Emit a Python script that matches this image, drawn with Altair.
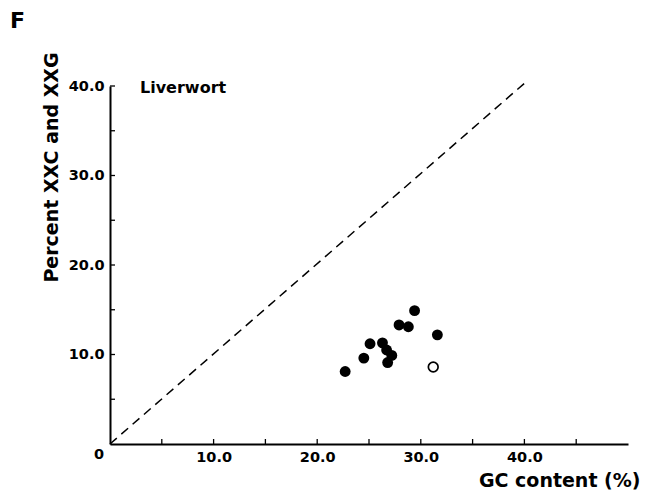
import altair as alt
import pandas as pd

# Data
gc_filled = [29.4, 27.9, 28.8, 31.6, 25.1, 26.3, 26.7, 27.2, 26.8, 24.5, 22.7]
xxc_filled = [14.9, 13.3, 13.1, 12.2, 11.2, 11.3, 10.5, 9.9, 9.1, 9.6, 8.1]
gc_open = [31.2]
xxc_open = [8.6]
diag_x = [0, 40.2]
diag_y = [0, 40.5]
x_tick_vals = [5, 10, 15, 20, 25, 30, 35, 40, 45]
y_tick_vals = [5, 10, 15, 20, 25, 30, 35, 40]
x_label_vals = [10, 20, 30, 40]
y_label_vals = [10, 20, 30, 40]

FONT = "DejaVu Sans"
W, H = 518, 358

xs = alt.Scale(domain=[0, 50], nice=False, zero=False)
ys = alt.Scale(domain=[0, 40], nice=False, zero=False)

x_axis = alt.Axis(
    values=x_label_vals, format=".1f", ticks=False, grid=False,
    domainColor="black", domainWidth=2,
    labelFont=FONT, labelFontSize=14.5, labelFontWeight="bold", labelColor="black",
    labelPadding=6, labelFlush=False,
    title="GC content (%)", titleFont=FONT, titleFontSize=19, titleFontWeight="bold",
    titleColor="black", titleX=530, titleY=42, titleAlign="right", titleBaseline="alphabetic",
)
y_axis = alt.Axis(
    values=y_label_vals, format=".1f", ticks=False, grid=False,
    domainColor="black", domainWidth=2,
    labelFont=FONT, labelFontSize=14.5, labelFontWeight="bold", labelColor="black",
    labelPadding=6, labelFlush=False,
    title="Percent XXC and XXG", titleFont=FONT, titleFontSize=19, titleFontWeight="bold",
    titleColor="black", titleAngle=270, titleX=-53, titleY=81, titleAlign="center",
    titleBaseline="alphabetic",
)

X = alt.X("x:Q", scale=xs, axis=x_axis)
Y = alt.Y("y:Q", scale=ys, axis=y_axis)

diag_df = pd.DataFrame({"x": diag_x, "y": diag_y})
filled_df = pd.DataFrame({"x": gc_filled, "y": xxc_filled})
open_df = pd.DataFrame({"x": gc_open, "y": xxc_open})
xt_df = pd.DataFrame({"x": x_tick_vals})
yt_df = pd.DataFrame({"y": y_tick_vals})

diag = alt.Chart(diag_df).mark_line(
    color="black", strokeWidth=1.5, strokeDash=[9, 6]
).encode(x=X, y=Y)

filled = alt.Chart(filled_df).mark_circle(size=118, color="black", opacity=1).encode(x=X, y=Y)

open_pt = alt.Chart(open_df).mark_point(
    shape="circle", size=95, filled=True, fill="white", stroke="black",
    strokeWidth=1.7, opacity=1
).encode(x=X, y=Y)

xticks = alt.Chart(xt_df).mark_rule(color="black", strokeWidth=1.3).encode(
    x=X, y=alt.value(H), y2=alt.value(H - 5)
)
yticks = alt.Chart(yt_df).mark_rule(color="black", strokeWidth=1.3).encode(
    y=Y, x=alt.value(0), x2=alt.value(5)
)

label_df = pd.DataFrame({"t": ["Liverwort"]})
liver = alt.Chart(label_df).mark_text(
    font=FONT, fontSize=16, fontWeight="bold", color="black",
    align="left", baseline="alphabetic"
).encode(text="t:N", x=alt.value(30), y=alt.value(7))

panel_df = pd.DataFrame({"t": ["F"]})
panel = alt.Chart(panel_df).mark_text(
    font=FONT, fontSize=22, fontWeight="bold", color="black",
    align="left", baseline="alphabetic"
).encode(text="t:N", x=alt.value(-100), y=alt.value(-58))

zero_df = pd.DataFrame({"t": ["0"]})
zero = alt.Chart(zero_df).mark_text(
    font=FONT, fontSize=14.5, fontWeight="bold", color="black",
    align="right", baseline="middle"
).encode(text="t:N", x=alt.value(-6), y=alt.value(H + 11))

chart = alt.layer(diag, xticks, yticks, filled, open_pt, liver, panel, zero).properties(
    width=W, height=H,
    autosize=alt.AutoSizeParams(type="none"),
    padding={"left": 110, "top": 86, "right": 38, "bottom": 54},
    background="white",
).configure_view(stroke=None)

chart.save("out.html", embed_options={"renderer": "svg", "actions": False})
